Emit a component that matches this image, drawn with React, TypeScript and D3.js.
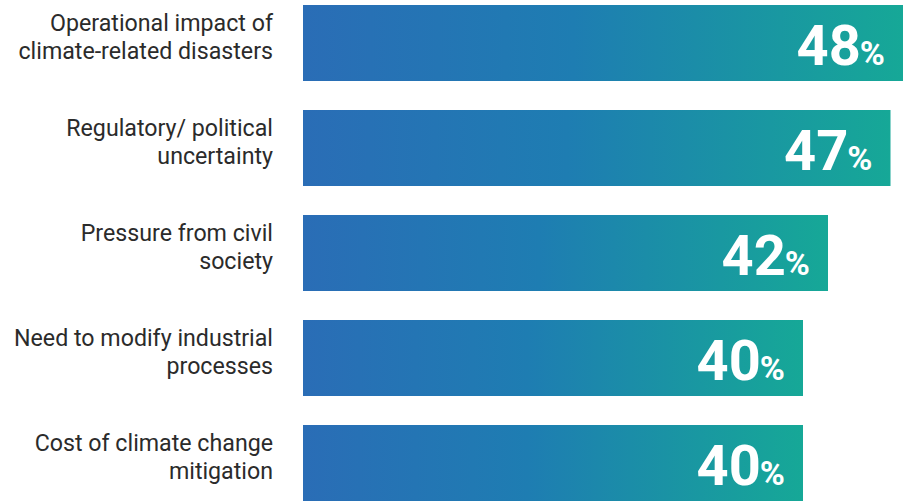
import React from "react";
import * as d3 from "d3";

const categories: string[][] = [
  ["Operational impact of", "climate-related disasters"],
  ["Regulatory/ political", "uncertainty"],
  ["Pressure from civil", "society"],
  ["Need to modify industrial", "processes"],
  ["Cost of climate change", "mitigation"],
];
const values: number[] = [48, 47, 42, 40, 40];

const W = 917;
const H = 503;

export default function App() {
  const x = d3.scaleLinear().domain([0, 48]).range([303, 903]);
  const y = d3
    .scaleBand<number>()
    .domain(values.map((_, i) => i))
    .range([5, 501])
    .paddingInner(29 / 105)
    .paddingOuter(0);
  const bw = y.bandwidth();
  return (
    <svg
      width={W}
      height={H}
      style={{ position: "absolute", left: 0, top: 0, display: "block" }}
      fontFamily="Roboto, 'Noto Sans', sans-serif"
    >
      <defs>
        <linearGradient id="barGrad" x1="0" x2="1" y1="0" y2="0">
          <stop offset="0" stopColor="#2a6db6" />
          <stop offset="0.45" stopColor="#1e7db2" />
          <stop offset="1" stopColor="#16a897" />
        </linearGradient>
      </defs>
      {values.map((v, i) => {
        const y0 = y(i) as number;
        const xe = x(v);
        return (
          <g key={i}>
            <rect x={x(0)} y={y0} width={xe - x(0)} height={bw} fill="url(#barGrad)" />
            <text
              x={xe - 18}
              y={y0 + 60}
              textAnchor="end"
              fill="#fff"
              fontWeight={700}
            >
              <tspan fontSize={56}>{v}</tspan>
              <tspan fontSize={34} dx={-1}>%</tspan>
            </text>
            {categories[i].map((line, j) => (
              <text
                key={j}
                x={273}
                y={y0 + 26 + j * 28}
                textAnchor="end"
                fontSize={23.2}
                fill="#2b2b2b"
              >
                {line}
              </text>
            ))}
          </g>
        );
      })}
    </svg>
  );
}
